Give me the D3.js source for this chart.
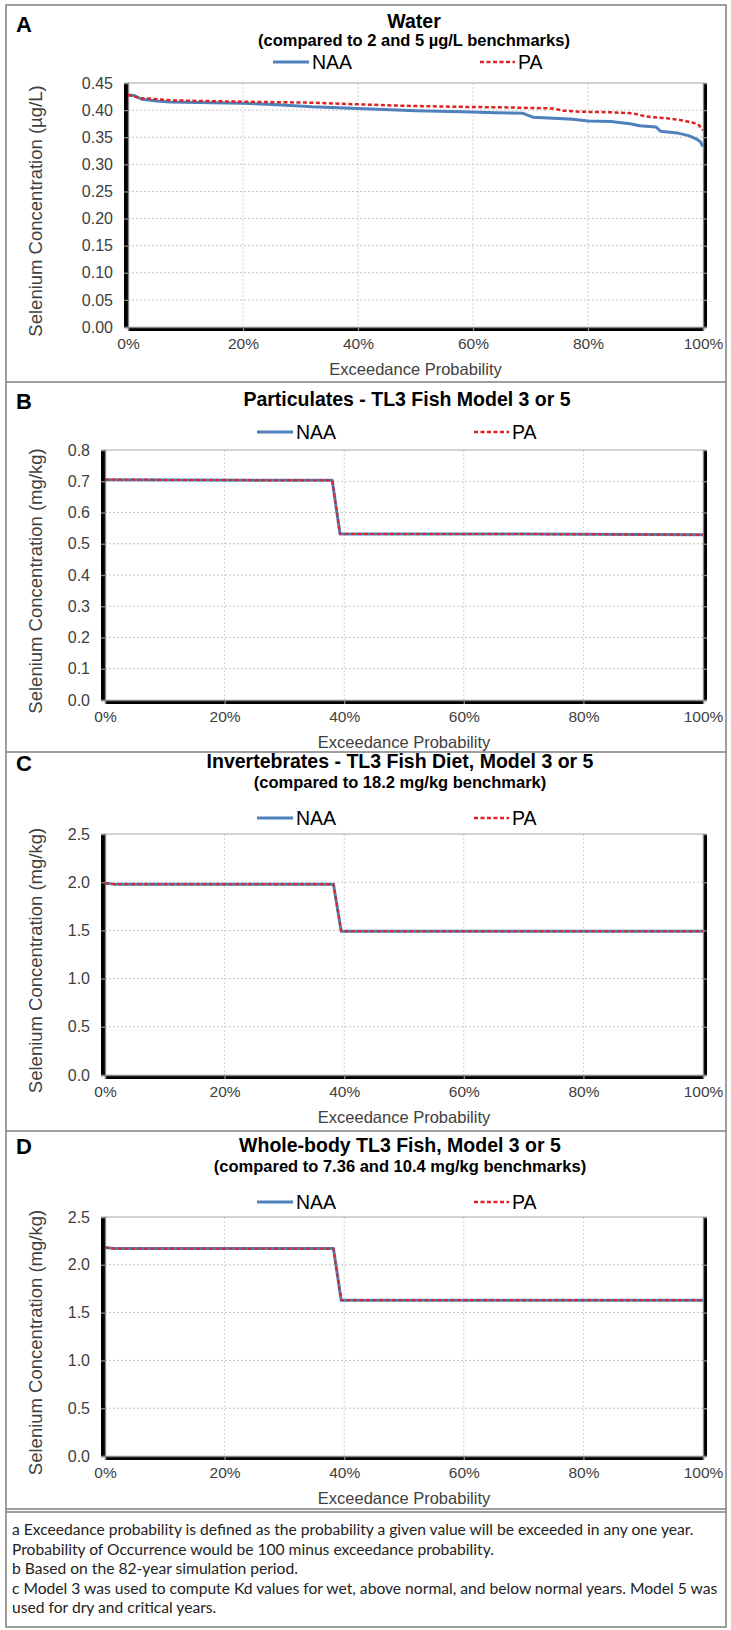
<!DOCTYPE html>
<html>
<head>
<meta charset="utf-8">
<script src="https://d3js.org/d3.v7.min.js"></script>
<style>
  body { margin: 0; background: #fff; }
</style>
</head>
<body>
<div id="chart"></div>
<script>
// ---- data (exceedance probability in %, selenium conc.) ----
var xTicks = [0, 20, 40, 60, 80, 100];

// A - water (ug/L)
var waterTicks = [0, 0.05, 0.10, 0.15, 0.20, 0.25, 0.30, 0.35, 0.40, 0.45];
var waterNaaX = [0, 1, 2.4, 5, 7.3, 12, 20, 26, 32, 40, 50, 58, 64, 68.7, 70.4, 74, 77.4, 80, 84, 87.3, 89, 91.8, 92.6, 95.5, 97.5, 98.8, 99.5, 100];
var waterNaaY = [0.428, 0.427, 0.420, 0.417, 0.415, 0.414, 0.4125, 0.410, 0.406, 0.403, 0.399, 0.397, 0.395, 0.394, 0.387, 0.385, 0.383, 0.380, 0.379, 0.375, 0.371, 0.369, 0.361, 0.358, 0.353, 0.347, 0.342, 0.333];
var waterPaX = [0, 1, 2, 4, 7.3, 12, 20, 32, 39, 48, 58, 65.9, 74, 75.7, 78.6, 84, 87.8, 90.2, 93.7, 96.5, 98.5, 99.3, 100];
var waterPaY = [0.428, 0.426, 0.422, 0.421, 0.418, 0.417, 0.4155, 0.4137, 0.411, 0.408, 0.406, 0.405, 0.403, 0.399, 0.397, 0.396, 0.394, 0.388, 0.385, 0.381, 0.376, 0.372, 0.363];

// B - particulates (mg/kg)
var partTicks = [0, 0.1, 0.2, 0.3, 0.4, 0.5, 0.6, 0.7, 0.8];
var partX = [0, 15, 38, 39.3, 70, 100];
var partNaaY = [0.705, 0.704, 0.703, 0.531, 0.531, 0.529];
var partPaY = [0.705, 0.704, 0.703, 0.531, 0.531, 0.529];

// C - invertebrates (mg/kg)
var invTicks = [0, 0.5, 1.0, 1.5, 2.0, 2.5];
var invX = [0, 1.5, 38.2, 39.5, 100];
var invNaaY = [1.99, 1.98, 1.98, 1.49, 1.49];
var invPaY = [1.99, 1.98, 1.98, 1.49, 1.49];

// D - whole-body fish (mg/kg)
var fishTicks = [0, 0.5, 1.0, 1.5, 2.0, 2.5];
var fishX = [0, 1.5, 38.2, 39.5, 100];
var fishNaaY = [2.18, 2.17, 2.17, 1.63, 1.63];
var fishPaY = [2.18, 2.17, 2.17, 1.63, 1.63];

var footnotes = [
  "a Exceedance probability is defined as the probability a given value will be exceeded in any one year.",
  "Probability of Occurrence would be 100 minus exceedance probability.",
  "b Based on the 82-year simulation period.",
  "c Model 3 was used to compute Kd values for wet, above normal, and below normal years. Model 5 was",
  "used for dry and critical years."
];

var FONT = "'Liberation Sans', Arial, Helvetica, sans-serif";
var blue = "#4f81bd", red = "#dd2323";

var svg = d3.select("#chart").append("svg")
  .attr("width", 731).attr("height", 1630)
  .style("font-family", FONT);

function zip(xs, ys) { return xs.map(function (d, i) { return [d, ys[i]]; }); }

function drawPanel(p) {
  var g = svg.append("g");
  var x = d3.scaleLinear().domain([0, 100]).range([p.left, p.right]);
  var y = d3.scaleLinear().domain([0, p.ticks[p.ticks.length - 1]]).range([p.bottom, p.top]);

  // gridlines
  g.selectAll(".hg").data(p.ticks.slice(1, -1)).enter().append("line")
    .attr("x1", p.left).attr("x2", p.right)
    .attr("y1", function (d) { return y(d); }).attr("y2", function (d) { return y(d); })
    .attr("stroke", "#c4c4c4").attr("stroke-width", 1).attr("stroke-dasharray", "2,2");
  g.selectAll(".vg").data(xTicks.slice(1, -1)).enter().append("line")
    .attr("y1", p.top).attr("y2", p.bottom)
    .attr("x1", function (d) { return x(d); }).attr("x2", function (d) { return x(d); })
    .attr("stroke", "#d0d0d0").attr("stroke-width", 1).attr("stroke-dasharray", "2,2");

  // top border
  g.append("line").attr("x1", p.left).attr("x2", p.right).attr("y1", p.top).attr("y2", p.top)
    .attr("stroke", "#a6a6a6").attr("stroke-width", 1.2);

  // axes
  var left = g.append("g").attr("transform", "translate(" + p.left + ",0)")
    .call(d3.axisLeft(y).tickValues(p.ticks).tickFormat(d3.format(p.fmt)).tickSize(4).tickPadding(11));
  var right = g.append("g").attr("transform", "translate(" + p.right + ",0)")
    .call(d3.axisRight(y).tickValues(p.ticks).tickFormat("").tickSize(4));
  var bottom = g.append("g").attr("transform", "translate(0," + p.bottom + ")")
    .call(d3.axisBottom(x).tickValues(xTicks).tickFormat(function (d) { return d + "%"; }).tickSize(4).tickPadding(7));
  [left, right, bottom].forEach(function (a) {
    a.attr("font-family", FONT).attr("fill", null);
    a.selectAll("path,line").attr("stroke", "#868686").attr("stroke-width", 1.3);
  });
  left.attr("font-size", 16).selectAll("text").attr("fill", "#404040");
  bottom.attr("font-size", 15.5).selectAll("text").attr("fill", "#404040");

  // series
  var line = d3.line().x(function (d) { return x(d[0]); }).y(function (d) { return y(d[1]); });
  g.append("path").datum(zip(p.naaX, p.naaY)).attr("d", line)
    .attr("fill", "none").attr("stroke", blue).attr("stroke-width", p.wBlue).attr("stroke-linejoin", "round");
  g.append("path").datum(zip(p.paX, p.paY)).attr("d", line)
    .attr("fill", "none").attr("stroke", red).attr("stroke-width", p.wRed).attr("stroke-dasharray", "4,2.5");

  // axis titles
  g.append("text").attr("x", (p.left + p.right) / 2).attr("y", p.bottom + 48)
    .attr("text-anchor", "middle").attr("font-size", 16.5).attr("fill", "#404040")
    .text("Exceedance Probability");
  g.append("text")
    .attr("transform", "translate(42," + ((p.top + p.bottom) / 2 + 6) + ") rotate(-90)")
    .attr("text-anchor", "middle").attr("font-size", 18.5).attr("fill", "#404040")
    .text(p.yTitle);

  // titles
  g.append("text").attr("x", p.tx).attr("y", p.titleY).attr("text-anchor", "middle")
    .attr("font-size", 19.5).attr("font-weight", "bold").text(p.title);
  if (p.sub) {
    g.append("text").attr("x", p.tx).attr("y", p.subY).attr("text-anchor", "middle")
      .attr("font-size", 16.5).attr("font-weight", "bold").text(p.sub);
  }
  g.append("text").attr("x", 16).attr("y", p.letterY)
    .attr("font-size", 22).attr("font-weight", "bold").text(p.letter);

  // legend
  g.append("line").attr("x1", p.lg[0]).attr("x2", p.lg[0] + 36).attr("y1", p.lgY).attr("y2", p.lgY)
    .attr("stroke", blue).attr("stroke-width", 3);
  g.append("text").attr("x", p.lg[0] + 39).attr("y", p.lgY + 7).attr("font-size", 19.5).text("NAA");
  g.append("line").attr("x1", p.lg[1]).attr("x2", p.lg[1] + 35).attr("y1", p.lgY).attr("y2", p.lgY)
    .attr("stroke", red).attr("stroke-width", 2.5).attr("stroke-dasharray", "4,2.5");
  g.append("text").attr("x", p.lg[1] + 38).attr("y", p.lgY + 7).attr("font-size", 19.5).text("PA");
}

drawPanel({
  letter: "A", letterY: 32, title: "Water", titleY: 28, sub: "(compared to 2 and 5 \u00b5g/L benchmarks)", subY: 46, tx: 414,
  left: 128, right: 703, top: 83, bottom: 327, ticks: waterTicks, fmt: ".2f",
  naaX: waterNaaX, naaY: waterNaaY, paX: waterPaX, paY: waterPaY, wBlue: 3, wRed: 2.5,
  yTitle: "Selenium Concentration (\u00b5g/L)", lg: [273, 480], lgY: 62
});
drawPanel({
  letter: "B", letterY: 409, title: "Particulates - TL3 Fish Model 3 or 5", titleY: 406, tx: 407,
  left: 105, right: 703, top: 450, bottom: 700, ticks: partTicks, fmt: ".1f",
  naaX: partX, naaY: partNaaY, paX: partX, paY: partPaY, wBlue: 3, wRed: 2,
  yTitle: "Selenium Concentration (mg/kg)", lg: [257, 474], lgY: 432
});
drawPanel({
  letter: "C", letterY: 771, title: "Invertebrates - TL3 Fish Diet, Model 3 or 5", titleY: 768,
  sub: "(compared to 18.2 mg/kg benchmark)", subY: 788, tx: 400,
  left: 105, right: 703, top: 834, bottom: 1075, ticks: invTicks, fmt: ".1f",
  naaX: invX, naaY: invNaaY, paX: invX, paY: invPaY, wBlue: 3, wRed: 2,
  yTitle: "Selenium Concentration (mg/kg)", lg: [257, 474], lgY: 818
});
drawPanel({
  letter: "D", letterY: 1154, title: "Whole-body TL3 Fish, Model 3 or 5", titleY: 1152,
  sub: "(compared to 7.36 and 10.4 mg/kg benchmarks)", subY: 1172, tx: 400,
  left: 105, right: 703, top: 1217, bottom: 1456, ticks: fishTicks, fmt: ".1f",
  naaX: fishX, naaY: fishNaaY, paX: fishX, paY: fishPaY, wBlue: 3, wRed: 2,
  yTitle: "Selenium Concentration (mg/kg)", lg: [257, 474], lgY: 1202
});

// frame and dividers
svg.append("rect").attr("x", 6).attr("y", 5).attr("width", 720).attr("height", 1622)
  .attr("fill", "none").attr("stroke", "#7f7f7f").attr("stroke-width", 1.5);
[382, 752, 1131, 1509, 1512].forEach(function (yy) {
  svg.append("line").attr("x1", 6).attr("x2", 726).attr("y1", yy).attr("y2", yy)
    .attr("stroke", "#7f7f7f").attr("stroke-width", 1.5);
});

// footnotes - sized so the longest line fits inside the frame
var fn = svg.append("g").attr("font-family", "Lato, 'Open Sans', sans-serif").attr("fill", "#222");
fn.selectAll("text").data(footnotes).enter().append("text")
  .attr("x", 12).attr("y", function (d, i) { return 1535 + i * 19.6; })
  .attr("font-size", 15).text(function (d) { return d; });
var longest = 0;
fn.selectAll("text").each(function () { longest = Math.max(longest, this.getComputedTextLength()); });
fn.selectAll("text").attr("font-size", 15 * 706 / longest);
</script>
</body>
</html>
